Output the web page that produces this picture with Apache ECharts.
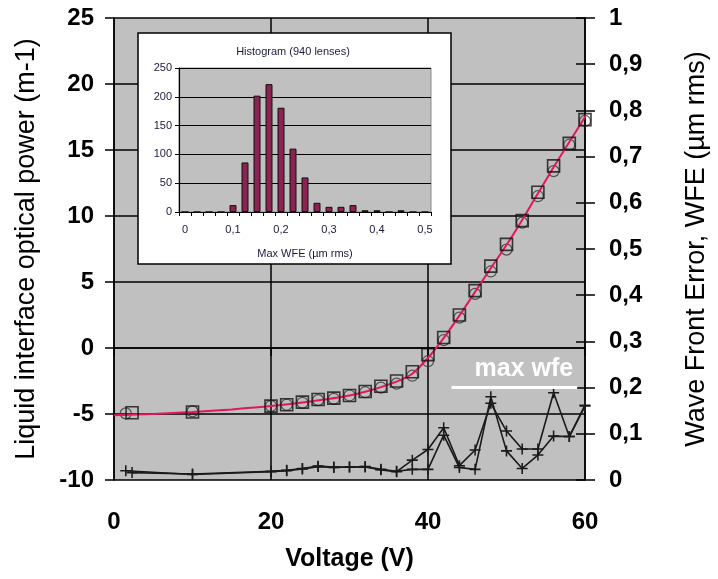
<!DOCTYPE html>
<html>
<head>
<meta charset="utf-8">
<script src="https://cdn.jsdelivr.net/npm/echarts@6/dist/echarts.min.js"></script>
<style>
  html, body { margin: 0; padding: 0; background: #ffffff; }
  #chart { width: 718px; height: 579px; }
</style>
</head>
<body>
<div id="chart"></div>
<script>
// Lens measurements: voltage sweep, two runs (circles / squares)
const voltCircle = [1.5, 10, 20, 22, 24, 26, 28, 30, 32, 34, 36, 38, 40, 42, 44, 46, 48, 50, 52, 54, 56, 58, 60];
const voltSquare = [2.3, 10, 20, 22, 24, 26, 28, 30, 32, 34, 36, 38, 40, 42, 44, 46, 48, 50, 52, 54, 56, 58, 60];

// Optical power of the liquid interface (m-1)
const powerCircle = [-4.95, -4.8, -4.4, -4.3, -4.15, -3.95, -3.85, -3.6, -3.35, -3.0, -2.7, -2.1, -1.0, 0.6, 2.3, 4.1, 5.8, 7.45, 9.5, 11.5, 13.4, 15.4, 17.2];
const powerSquare = [-4.9, -4.85, -4.4, -4.3, -4.1, -3.9, -3.8, -3.6, -3.3, -2.9, -2.5, -1.8, -0.5, 0.8, 2.5, 4.35, 6.2, 7.85, 9.65, 11.8, 13.8, 15.5, 17.3];

// Fitted power curve
const fitVolt  = [0, 5, 10, 15, 20, 25, 30, 33, 36, 38, 40, 42, 44, 46, 48, 50, 52, 54, 56, 58, 60, 61];
const fitPower = [-5.1, -5.0, -4.85, -4.65, -4.4, -4.05, -3.6, -3.15, -2.55, -1.95, -0.75, 0.75, 2.45, 4.25, 6.05, 7.8, 9.7, 11.7, 13.7, 15.6, 17.5, 18.5];

// Max wave front error (µm rms) for each run
const wfeCircle = [0.02, 0.012, 0.018, 0.02, 0.024, 0.029, 0.027, 0.028, 0.028, 0.022, 0.018, 0.043, 0.066, 0.113, 0.031, 0.065, 0.166, 0.106, 0.067, 0.067, 0.189, 0.094, 0.162];
const wfeSquare = [0.016, 0.013, 0.019, 0.021, 0.025, 0.03, 0.028, 0.028, 0.029, 0.023, 0.019, 0.023, 0.023, 0.097, 0.027, 0.023, 0.18, 0.063, 0.025, 0.054, 0.095, 0.094, 0.16];

// WFE specification limit
const wfeLimit = 0.2;
const wfeLimitFrom = 43;
const wfeLimitTo = 59;

// Histogram of max WFE over 940 lenses (bin centres, µm rms)
const histBins = ['0', '0,025', '0,05', '0,075', '0,1', '0,125', '0,15', '0,175', '0,2', '0,225', '0,25',
                  '0,275', '0,3', '0,325', '0,35', '0,375', '0,4', '0,425', '0,45', '0,475', '0,5'];
const histCounts = [0, 0, 0, 0, 12, 86, 202, 222, 181, 110, 60, 16, 9, 9, 12, 3, 3, 0, 3, 0, 0];

// Axis tick settings
const powerTicks = { min: -10, max: 25, step: 5 };
const voltTicks = { min: 0, max: 60, step: 20 };
const wfeTicks = { min: 0, max: 1, step: 0.1 };
const histTicks = { min: 0, max: 250, step: 50 };

const FONT = 'Liberation Sans, Arial, sans-serif';
const pair = (xs, ys) => xs.map((x, i) => [x, ys[i]]);
const plusSymbol = 'path://M4.3,0H5.7V4.3H10V5.7H5.7V10H4.3V5.7H0V4.3H4.3Z';
const commaNum = v => String(Math.round(v * 10) / 10).replace('.', ',');

const chart = echarts.init(document.getElementById('chart'), null, { renderer: 'canvas' });

const option = {
  animation: false,
  backgroundColor: '#ffffff',
  grid: [
    { left: 114, right: 130, top: 18, bottom: 99, show: true, backgroundColor: '#c0c0c0', borderWidth: 0, z: 0 },
    { left: 179, top: 68, width: 252, height: 144, show: true, backgroundColor: '#c0c0c0', borderColor: '#8a8a8a', borderWidth: 1, z: 11 }
  ],
  graphic: [
    { type: 'rect', z: 10, shape: { x: 138, y: 33, width: 313, height: 231 },
      style: { fill: '#ffffff', stroke: '#000000', lineWidth: 1.5 } },
    { type: 'text', z: 14, x: 293, y: 52,
      style: { text: 'Histogram (940 lenses)', font: '11px ' + FONT, fill: '#1a1a3a', textAlign: 'center', textVerticalAlign: 'middle' } }
  ],
  xAxis: [
    {
      type: 'value', gridIndex: 0, min: voltTicks.min, max: voltTicks.max, interval: voltTicks.step,
      name: 'Voltage (V)', nameLocation: 'middle', nameGap: 67,
      nameTextStyle: { fontFamily: FONT, fontSize: 25, fontWeight: 'bold', color: '#000' },
      axisLine: { show: true, lineStyle: { color: '#000', width: 1.5 } },
      axisTick: { show: true, length: 8, lineStyle: { color: '#000', width: 1.5 } },
      axisLabel: { margin: 30, fontFamily: FONT, fontSize: 24, fontWeight: 'bold', color: '#000' },
      splitLine: { show: true, lineStyle: { color: '#000', width: 1.5 } }
    },
    {
      type: 'category', gridIndex: 1, data: histBins, boundaryGap: true, z: 12,
      name: 'Max WFE (µm rms)', nameLocation: 'middle', nameGap: 36,
      nameTextStyle: { fontFamily: FONT, fontSize: 11, color: '#1a1a3a' },
      axisLine: { show: true, lineStyle: { color: '#000', width: 1.2 } },
      axisTick: { show: true, interval: 0, length: 4, lineStyle: { color: '#000' } },
      axisLabel: { interval: 3, margin: 12, fontFamily: FONT, fontSize: 11, color: '#1a1a3a' },
      splitLine: { show: false }
    }
  ],
  yAxis: [
    {
      type: 'value', gridIndex: 0, position: 'left', min: powerTicks.min, max: powerTicks.max, interval: powerTicks.step,
      name: 'Liquid interface optical power (m-1)', nameLocation: 'middle', nameGap: 74,
      nameTextStyle: { fontFamily: FONT, fontSize: 27, color: '#000' },
      axisLine: { show: true, lineStyle: { color: '#000', width: 1.5 } },
      axisTick: { show: true, length: 9, lineStyle: { color: '#000', width: 1.5 } },
      axisLabel: { margin: 20, fontFamily: FONT, fontSize: 24, fontWeight: 'bold', color: '#000' },
      splitLine: { show: true, lineStyle: { color: '#000', width: 1.5 } }
    },
    {
      type: 'value', gridIndex: 0, position: 'right', min: wfeTicks.min, max: wfeTicks.max, interval: wfeTicks.step,
      name: 'Wave Front Error, WFE (µm rms)', nameLocation: 'middle', nameGap: 98,
      nameTextStyle: { fontFamily: FONT, fontSize: 27, color: '#000' },
      axisLine: { show: true, lineStyle: { color: '#000', width: 1.5 } },
      axisTick: { show: true, length: 10, lineStyle: { color: '#000', width: 1.5 } },
      axisLabel: { margin: 24, fontFamily: FONT, fontSize: 24, fontWeight: 'bold', color: '#000', formatter: commaNum },
      splitLine: { show: false }
    },
    {
      // inner half of the crossing ticks on the WFE axis
      type: 'value', gridIndex: 0, position: 'right', min: wfeTicks.min, max: wfeTicks.max, interval: wfeTicks.step,
      axisLine: { show: false },
      axisTick: { show: true, inside: true, length: 9, lineStyle: { color: '#000', width: 1.5 } },
      axisLabel: { show: false },
      splitLine: { show: false }
    },
    {
      type: 'value', gridIndex: 1, min: histTicks.min, max: histTicks.max, interval: histTicks.step, z: 12,
      axisLine: { show: true, lineStyle: { color: '#000', width: 1.2 } },
      axisTick: { show: true, length: 4, lineStyle: { color: '#000' } },
      axisLabel: { margin: 7, fontFamily: FONT, fontSize: 11, color: '#1a1a3a' },
      splitLine: { show: true, lineStyle: { color: '#000', width: 1.2 } }
    }
  ],
  series: [
    {
      name: 'fit', type: 'line', xAxisIndex: 0, yAxisIndex: 0, z: 4,
      data: pair(fitVolt, fitPower), smooth: 0.3, showSymbol: false, clip: false,
      lineStyle: { color: '#e0185a', width: 2 }
    },
    {
      name: 'power run 1', type: 'scatter', xAxisIndex: 0, yAxisIndex: 0, z: 3,
      data: pair(voltCircle, powerCircle), symbol: 'circle', symbolSize: 11,
      itemStyle: { color: 'rgba(0,0,0,0)', borderColor: '#333', borderWidth: 1.2 }
    },
    {
      name: 'power run 2', type: 'scatter', xAxisIndex: 0, yAxisIndex: 0, z: 5,
      data: pair(voltSquare, powerSquare), symbol: 'rect', symbolSize: 12,
      itemStyle: { color: 'rgba(0,0,0,0)', borderColor: '#111', borderWidth: 1.6 }
    },
    {
      name: 'wfe run 1', type: 'line', xAxisIndex: 0, yAxisIndex: 1, z: 3,
      data: pair(voltCircle, wfeCircle), symbol: plusSymbol, symbolSize: 11, showAllSymbol: true,
      lineStyle: { color: '#1a1a1a', width: 1.6 },
      itemStyle: { color: '#1a1a1a' },
      markLine: {
        silent: true, symbol: 'none',
        lineStyle: { color: '#ffffff', width: 3, type: 'solid' },
        label: { show: true, position: 'insideEndTop', distance: [4, 6], formatter: 'max wfe',
                 fontFamily: FONT, fontSize: 25, fontWeight: 'bold', color: '#ffffff' },
        data: [[{ coord: [wfeLimitFrom, wfeLimit] }, { coord: [wfeLimitTo, wfeLimit] }]]
      }
    },
    {
      name: 'wfe run 2', type: 'line', xAxisIndex: 0, yAxisIndex: 1, z: 3,
      data: pair(voltSquare, wfeSquare), symbol: plusSymbol, symbolSize: 11, showAllSymbol: true,
      lineStyle: { color: '#1a1a1a', width: 1.6 },
      itemStyle: { color: '#1a1a1a' }
    },
    {
      name: 'histogram', type: 'bar', xAxisIndex: 1, yAxisIndex: 3, z: 13,
      data: histCounts, barWidth: 7,
      itemStyle: { color: '#8b2252', borderColor: '#111', borderWidth: 1 }
    }
  ]
};

chart.setOption(option);
</script>
</body>
</html>
